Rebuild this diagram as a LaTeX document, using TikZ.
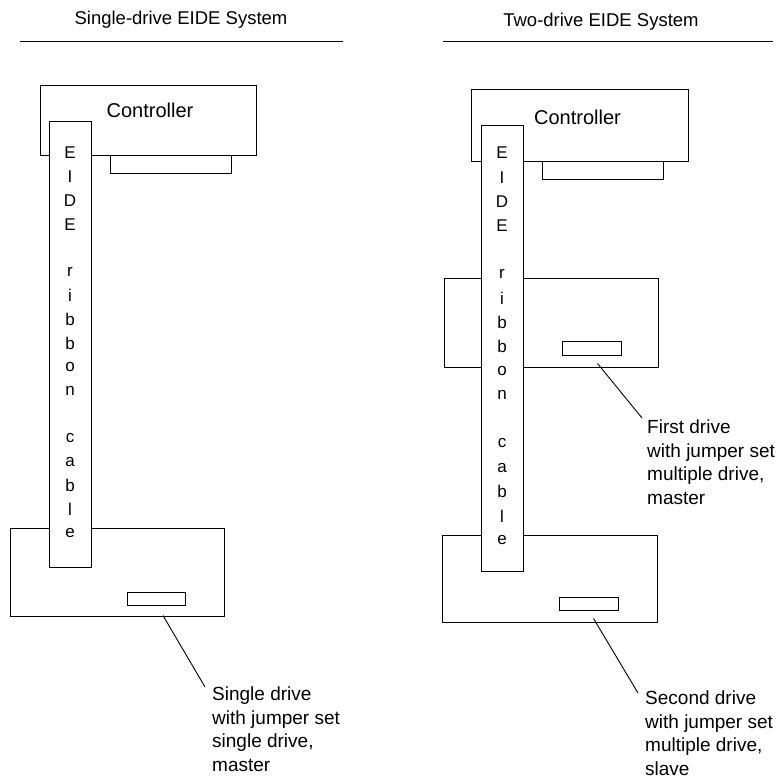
\documentclass[tikz,border=0pt]{standalone}
\usepackage{fontspec}
\setmainfont{Liberation Sans}
\usepackage{tikz}
\usetikzlibrary{calc, positioning}
\tikzset{
  box/.style={draw, line width=1pt, inner sep=0pt, fill=white},
  ctrlbox/.style={box, minimum width=216pt, minimum height=70pt},
  jackbox/.style={box, minimum width=121pt, minimum height=19pt},
  drivebox/.style={box, minimum width=214pt, minimum height=88pt},
  jumperbox/.style={box, minimum width=58pt, minimum height=13pt},
  cablebox/.style={box, minimum width=42pt, minimum height=445pt},
  cableletter/.style={inner sep=0pt, font=\fontsize{17}{17}\selectfont},
  note/.style={anchor=north west, inner sep=0pt, align=left, font=\fontsize{19}{23.5}\selectfont},
  heading/.style={inner sep=0pt, font=\fontsize{18.5}{20}\selectfont},
  ctrltext/.style={inner sep=0pt, font=\fontsize{20}{22}\selectfont}
}
\begin{document}
\begin{tikzpicture}[x=1pt,y=-1pt]
  \useasboundingbox (0,0) rectangle (781,778);
  % Single-drive
  \node[heading] (titleL) at (181,20) {Single-drive EIDE System};
  \draw[line width=1pt] (20,42) --(343,42); %rule
  \node[jackbox] (jackL) at (170.5,164.5) {};
  \node[ctrlbox] (ctrlL) at (148,121) {};
  \node[ctrltext] (ctrlLtext) at ([xshift=2pt,yshift=11pt]ctrlL.center) {Controller};
  \node[drivebox] (driveL) at (117,572.5) {};
  \node[jumperbox] (jumperL) at (156,598.5) {};
  \node[cablebox] (cableL) at (70.5,344.5) {};
  \foreach \i/\ch in {0/E,1/I,2/D,3/E,5/r,6/i,7/b,8/b,9/o,10/n,12/c,13/a,14/b,15/l,16/e}
    \node[cableletter] (cL\i) at (70,{153+23.75*\i}) {\ch};
  \node[note] (noteL) at (212,687) {Single drive\\with jumper set\\single drive,\\master};
  \draw[line width=0.9pt] ([shift={(7,10)}]jumperL.south) --([shift={(-7,0)}]noteL.north west);
  % Two-drive
  \node[heading] (titleR) at (601,22) {Two-drive EIDE System};
  \draw[line width=1pt] (443,42) --(773,42); %rule
  \node[jackbox, minimum height=18pt] (jackR) at (602.5,171) {};
  \node[ctrlbox, minimum width=217pt, minimum height=72pt] (ctrlR) at (579.5,126) {};
  \node[ctrltext] (ctrlRtext) at ([xshift=-2pt,yshift=9pt]ctrlR.center) {Controller};
  \node[drivebox, minimum height=89pt] (driveA) at (551,322.5) {};
  \node[jumperbox, minimum width=59pt, minimum height=14pt] (jumperA) at (591.5,348) {};
  \node[drivebox, minimum width=215pt, minimum height=87pt] (driveB) at (549.5,578.5) {};
  \node[jumperbox, minimum width=59pt] (jumperB) at (588.5,603.5) {};
  \node[cablebox] (cableR) at (502,348.5) {};
  \foreach \i/\ch in {0/E,1/I,2/D,3/E,5/r,6/i,7/b,8/b,9/o,10/n,12/c,13/a,14/b,15/l,16/e}
    \node[cableletter] (cR\i) at (502,{153+24.2*\i}) {\ch};
  \node[note] (noteA) at (647,420) {First drive\\with jumper set\\multiple drive,\\master};
  \node[note] (noteB) at (645,691) {Second drive\\with jumper set\\multiple drive,\\slave};
  \draw[line width=0.9pt] ([shift={(6,8)}]jumperA.south) --([shift={(-5,-2)}]noteA.north west);
  \draw[line width=0.9pt] ([shift={(5,8)}]jumperB.south) --([shift={(-7,2)}]noteB.north west);
\end{tikzpicture}
\end{document}
